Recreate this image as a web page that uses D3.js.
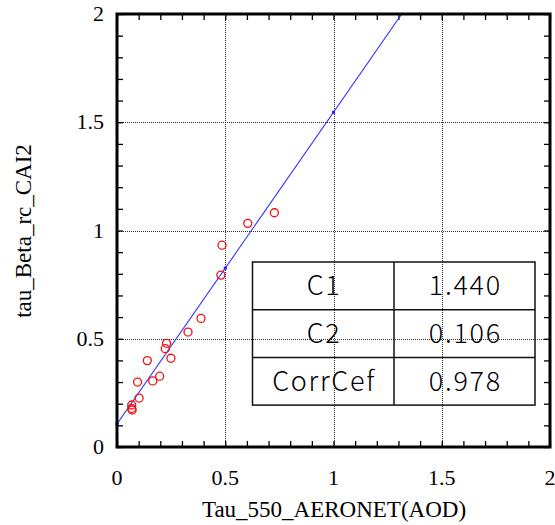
<!DOCTYPE html>
<html>
<head>
<meta charset="utf-8">
<script src="https://cdn.jsdelivr.net/npm/d3@7"></script>
<style>
  html, body { margin: 0; padding: 0; background: #fff; }
  svg { display: block; }
</style>
</head>
<body>
<svg id="chart" width="555" height="525"></svg>
<script>
// Observed pairs: AERONET AOD at 550 nm vs retrieved tau
const aodX = [0.604, 0.727, 0.485, 0.480, 0.388, 0.328, 0.229, 0.223, 0.249, 0.140, 0.197, 0.165, 0.095, 0.102, 0.068, 0.068, 0.070];
const tauY = [1.033, 1.082, 0.932, 0.794, 0.594, 0.531, 0.479, 0.454, 0.410, 0.399, 0.327, 0.305, 0.300, 0.226, 0.194, 0.178, 0.171];

// Regression fit y = C1 * x + C2
const statNames = ["C1", "C2", "CorrCef"];
const statValues = ["1.440", "0.106", "0.978"];
const slope = 1.440;
const intercept = 0.106;
const fitMarkers = [0, 0.5, 1];

const majorTicks = [0, 0.5, 1, 1.5, 2];
const tickLabels = ["0", "0.5", "1", "1.5", "2"];
const minorTicks = d3.range(0, 20.5).map(i => i / 10);

(function draw() {
  const svg = d3.select("#chart");
  const pL = 117, pR = 550, pT = 14, pB = 447;

  const x = d3.scaleLinear().domain([0, 2]).range([pL, pR]);
  const y = d3.scaleLinear().domain([0, 2]).range([pB, pT]);

  // Dotted grid at interior major ticks
  const gridVals = [0.5, 1, 1.5];
  const grid = svg.append("g").attr("stroke", "#333").attr("stroke-width", 1)
    .attr("stroke-dasharray", "1,1");
  grid.selectAll(".gx").data(gridVals).join("line").attr("class", "gx")
    .attr("x1", d => Math.round(x(d)) + 0.5).attr("x2", d => Math.round(x(d)) + 0.5)
    .attr("y1", pT).attr("y2", pB);
  grid.selectAll(".gy").data(gridVals).join("line").attr("class", "gy")
    .attr("y1", d => Math.round(y(d)) + 0.5).attr("y2", d => Math.round(y(d)) + 0.5)
    .attr("x1", pL).attr("x2", pR);

  // Inward tick marks on all four sides via d3 axes
  const tickLen = -6;
  const axB = d3.axisBottom(x).tickValues(minorTicks).tickSize(tickLen).tickFormat("");
  const axT = d3.axisTop(x).tickValues(minorTicks).tickSize(tickLen).tickFormat("");
  const axL = d3.axisLeft(y).tickValues(minorTicks).tickSize(tickLen).tickFormat("");
  const axR = d3.axisRight(y).tickValues(minorTicks).tickSize(tickLen).tickFormat("");
  [[axB, `translate(0,${pB})`], [axT, `translate(0,${pT})`],
   [axL, `translate(${pL},0)`], [axR, `translate(${pR},0)`]].forEach(([ax, tr]) => {
    const g = svg.append("g").attr("transform", tr).call(ax);
    g.select(".domain").remove();
    g.selectAll("line").attr("stroke", "#000").attr("stroke-width", 1.3);
  });

  // Tick labels
  const lblFont = "'Liberation Serif', 'Times New Roman', serif";
  svg.append("g").selectAll("text").data(majorTicks).join("text")
    .attr("x", d => x(d)).attr("y", 485)
    .attr("text-anchor", "middle")
    .attr("font-family", lblFont).attr("font-size", 22).attr("fill", "#000")
    .text((d, i) => tickLabels[i]);
  svg.append("g").selectAll("text").data(majorTicks).join("text")
    .attr("x", 104).attr("y", d => y(d) + 7)
    .attr("text-anchor", "end")
    .attr("font-family", lblFont).attr("font-size", 22).attr("fill", "#000")
    .text((d, i) => tickLabels[i]);

  // Axis titles
  svg.append("text").attr("x", 334).attr("y", 517).attr("text-anchor", "middle")
    .attr("font-family", lblFont).attr("font-size", 23).attr("fill", "#000")
    .text("Tau_550_AERONET(AOD)");
  svg.append("text").attr("transform", "translate(31,231) rotate(-90)")
    .attr("text-anchor", "middle")
    .attr("font-family", lblFont).attr("font-size", 23).attr("fill", "#000")
    .text("tau_Beta_rc_CAI2");

  // Statistics table
  const tbl = { x0: 252.5, x1: 535, xm: 394, y0: 262, rowH: 47.7 };
  const tg = svg.append("g");
  tg.append("rect").attr("x", tbl.x0).attr("y", tbl.y0)
    .attr("width", tbl.x1 - tbl.x0).attr("height", tbl.rowH * 3)
    .attr("fill", "none").attr("stroke", "#111").attr("stroke-width", 1.5);
  tg.selectAll(".rl").data([1, 2]).join("line").attr("class", "rl")
    .attr("x1", tbl.x0).attr("x2", tbl.x1)
    .attr("y1", d => tbl.y0 + d * tbl.rowH).attr("y2", d => tbl.y0 + d * tbl.rowH)
    .attr("stroke", "#111").attr("stroke-width", 1.5);
  tg.append("line").attr("x1", tbl.xm).attr("x2", tbl.xm)
    .attr("y1", tbl.y0).attr("y2", tbl.y0 + 3 * tbl.rowH)
    .attr("stroke", "#111").attr("stroke-width", 1.5);
  const tblFont = "'Noto Sans CJK JP', 'Noto Sans', sans-serif";
  const ls = 1.7;
  tg.selectAll(".n").data(statNames).join("text").attr("class", "n")
    .attr("x", (tbl.x0 + tbl.xm) / 2 + ls / 2).attr("y", (d, i) => tbl.y0 + (i + 0.5) * tbl.rowH + 9.5)
    .attr("text-anchor", "middle").attr("font-family", tblFont).attr("font-weight", 300)
    .attr("letter-spacing", ls)
    .attr("font-size", 27).attr("fill", "#000").text(d => d);
  tg.selectAll(".v").data(statValues).join("text").attr("class", "v")
    .attr("x", (tbl.xm + tbl.x1) / 2 + ls / 2).attr("y", (d, i) => tbl.y0 + (i + 0.5) * tbl.rowH + 9.5)
    .attr("text-anchor", "middle").attr("font-family", tblFont).attr("font-weight", 300)
    .attr("letter-spacing", ls)
    .attr("font-size", 27).attr("fill", "#000").text(d => d);

  // Regression line, clipped to the plot frame
  svg.append("clipPath").attr("id", "plotClip").append("rect")
    .attr("x", pL).attr("y", pT).attr("width", pR - pL).attr("height", pB - pT);
  const xEnd = (2 - intercept) / slope;
  svg.append("line").attr("clip-path", "url(#plotClip)")
    .attr("x1", x(0)).attr("y1", y(intercept))
    .attr("x2", x(xEnd)).attr("y2", y(slope * xEnd + intercept))
    .attr("stroke", "#3333ff").attr("stroke-width", 1.1);
  svg.append("g").selectAll("rect").data(fitMarkers).join("rect")
    .attr("x", d => x(d) - 1.5).attr("y", d => y(slope * d + intercept) - 1.5)
    .attr("width", 3).attr("height", 3).attr("fill", "#2222ff");

  // Data points
  svg.append("g").selectAll("circle").data(aodX).join("circle")
    .attr("cx", d => x(d)).attr("cy", (d, i) => y(tauY[i]))
    .attr("r", 4).attr("fill", "none").attr("stroke", "#ee1111").attr("stroke-width", 1.3);

  // Plot frame
  svg.append("rect").attr("x", pL).attr("y", pT)
    .attr("width", pR - pL).attr("height", pB - pT)
    .attr("fill", "none").attr("stroke", "#000").attr("stroke-width", 3);
})();
</script>
</body>
</html>
